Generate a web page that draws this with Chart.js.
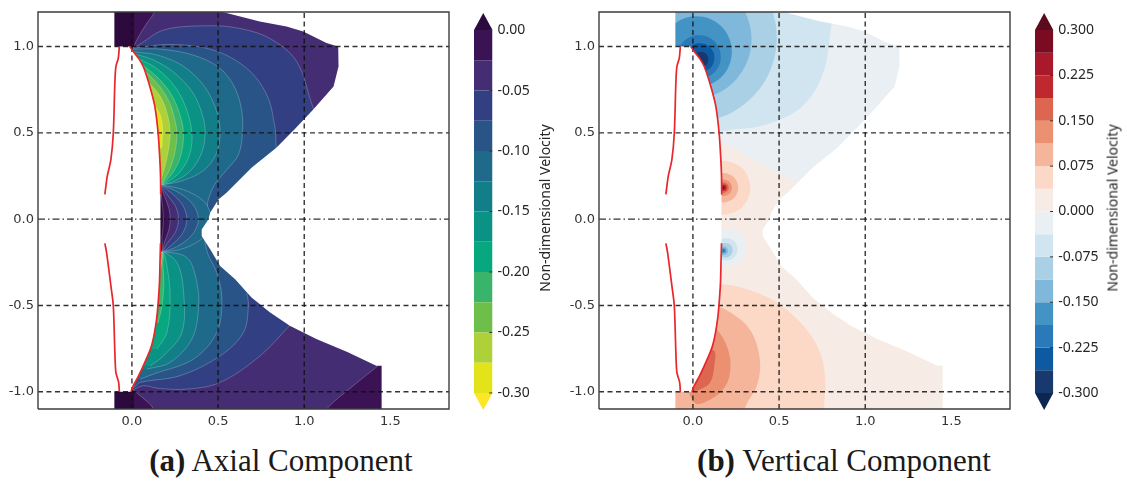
<!DOCTYPE html>
<html>
<head>
<meta charset="utf-8">
<title>Axial and vertical velocity components</title>
<script src="https://cdn.jsdelivr.net/npm/chart.js@4.4.1/dist/chart.umd.min.js"></script>
<style>
  html, body { margin: 0; padding: 0; background: #fff; }
  body { position: relative; width: 1127px; height: 482px; overflow: hidden; }
  canvas { position: absolute; top: 0; }
  .cbar-title { position: absolute; transform: translate(-50%, -50%) rotate(-90deg); white-space: nowrap;
    font: 14px "Noto Sans"; color: #262626; }
  .caption { position: absolute; top: 445px; transform: translateX(-50%); white-space: nowrap;
    font: 31px "Liberation Serif"; line-height: 31px; color: #1a1a1a; }
</style>
</head>
<body>
<canvas id="axial" width="460" height="440" style="left:0"></canvas>
<canvas id="axialBar" width="64" height="440" style="left:474px"></canvas>
<div class="cbar-title" style="left:543.5px; top:208px">Non-dimensional Velocity</div>
<canvas id="vertical" width="460" height="440" style="left:561px"></canvas>
<canvas id="verticalBar" width="92" height="440" style="left:1035px"></canvas>
<div class="cbar-title" style="left:1111.5px; top:208px">Non-dimensional Velocity</div>
<div class="caption" style="left:281px"><b>(a)</b> Axial Component</div>
<div class="caption" style="left:844px"><b>(b)</b> Vertical Component</div>

<script>
// axes, same for both panels
const xRange = [-0.545, 1.84];
const yRange = [-1.1, 1.2];
const xTicks = [0, 0.5, 1, 1.5];
const yTicks = [-1, -0.5, 0, 0.5, 1];
const dashX = [0, 0.5, 1];
const dashY = [-1, -0.5, 0.5, 1];
const dashDotY = [0];

// body outline (red)
const bodyRightTop = [[-0.012,1.0],[0.008,0.971],[0.04,0.93],[0.066,0.884],[0.104,0.769],[0.133,0.653],[0.152,0.499],[0.162,0.345],[0.166,0.25],[0.167,0.143]];
const bodyRightBot = [[0.166,-0.14],[0.163,-0.25],[0.159,-0.387],[0.143,-0.58],[0.114,-0.734],[0.066,-0.85],[0.035,-0.915],[0.008,-0.965],[-0.006,-1.0]];
const bodyLeftTop = [[-0.073,1.0],[-0.079,0.933],[-0.093,0.884],[-0.099,0.788],[-0.108,0.499],[-0.122,0.345],[-0.143,0.249],[-0.157,0.143]];
const bodyLeftBot = [[-0.157,-0.14],[-0.147,-0.194],[-0.122,-0.387],[-0.108,-0.503],[-0.099,-0.772],[-0.093,-0.888],[-0.077,-0.946],[-0.073,-1.0]];

// where there is no solution (white)
const leftMask = [[-0.7,1.3],[-0.102,1.3],[-0.102,1.0],[-0.012,1.0],[0.008,0.971],[0.04,0.93],[0.066,0.884],[0.104,0.769],[0.133,0.653],[0.152,0.499],[0.162,0.345],[0.166,0.25],[0.167,0.14],[0.166,-0.14],[0.163,-0.25],[0.159,-0.387],[0.143,-0.58],[0.114,-0.734],[0.066,-0.85],[0.035,-0.915],[0.008,-0.965],[-0.006,-1.0],[-0.102,-1.0],[-0.102,-1.3],[-0.7,-1.3]];
const rightMask = [[0.52,1.3],[0.526,1.2],[0.742,1.145],[0.897,1.116],[0.994,1.087],[1.129,1.02],[1.197,1.0],[1.199,0.884],[1.17,0.769],[1.051,0.634],[0.944,0.52],[0.838,0.413],[0.694,0.297],[0.549,0.153],[0.502,0.114],[0.454,0.037],[0.444,0.0],[0.405,-0.06],[0.405,-0.098],[0.425,-0.13],[0.454,-0.175],[0.512,-0.272],[0.599,-0.349],[0.694,-0.454],[0.8,-0.54],[0.916,-0.618],[1.07,-0.695],[1.25,-0.77],[1.418,-0.85],[1.449,-0.85],[1.449,-1.3],[2.0,-1.3],[2.0,1.3]];
const fullRect = [[-0.7,-1.3],[2.0,-1.3],[2.0,1.3],[-0.7,1.3]];

// colour levels
const axialLevels = [0, -0.025, -0.05, -0.075, -0.1, -0.125, -0.15, -0.175, -0.2, -0.225, -0.25, -0.275, -0.3];
const axialTicks = [0, -0.05, -0.1, -0.15, -0.2, -0.25, -0.3];
const axialColors = ['#2c0a3e','#3b1253','#442d73','#333f83','#295488','#1f698a','#127e87','#0a9284','#07a77f','#3ab46b','#6dbf4a','#aed13a','#e3e31a','#fde725'];
const vertLevels = [-0.3, -0.2625, -0.225, -0.1875, -0.15, -0.1125, -0.075, -0.0375, 0, 0.0375, 0.075, 0.1125, 0.15, 0.1875, 0.225, 0.2625, 0.3];
const vertTicks = [0.3, 0.225, 0.15, 0.075, 0, -0.075, -0.15, -0.225, -0.3];
const vertColors = ['#0b2650','#17396d','#0d5aa3','#2a79b8','#4394c5','#7fb8da','#a9d0e5','#d1e5f0','#e9eff2','#f6ebe5','#fcd9c6','#f5b59a','#eb9070','#dc6650','#c0282f','#a8192b','#7a0b21','#5c0a1d'];

// axial component: contour bands (upper half)
const axA = [[0.005,0.99],[0.04,1.06],[0.09,1.14],[0.13,1.2],[0.14,1.3],[-0.05,1.3],[-0.05,0.99]];
const axOverTop = [[-0.102,1.0],[0.013,1.0],[0.013,1.3],[-0.102,1.3]];
const axB = [[0.0,0.99],[0.038,1.008],[0.183,1.095],[0.415,1.12],[0.609,1.108],[0.802,1.046],[0.957,0.912],[1.053,0.642],[1.2,0.3],[0.5,0.02],[0.17,0.02],[-0.05,0.2],[-0.05,0.99]];
const axC = [[0.006,0.99],[0.222,1.012],[0.473,0.979],[0.667,0.873],[0.783,0.719],[0.831,0.526],[0.84,0.4],[0.9,0.2],[0.5,0.02],[0.17,0.02],[-0.05,0.2],[-0.05,0.99]];
const axD = [[0.006,0.985],[0.164,0.985],[0.357,0.95],[0.512,0.873],[0.599,0.757],[0.638,0.623],[0.641,0.497],[0.618,0.372],[0.551,0.286],[0.48,0.2],[0.44,0.1],[0.43,0.02],[0.17,0.02],[-0.05,0.2],[-0.05,0.985]];
const axE = [[0.012,0.97],[0.15,0.95],[0.3,0.885],[0.42,0.77],[0.49,0.63],[0.512,0.5],[0.49,0.38],[0.42,0.285],[0.3,0.225],[0.164,0.199],[-0.05,0.199],[-0.05,0.97]];
const axF = [[0.025,0.955],[0.13,0.92],[0.25,0.845],[0.355,0.73],[0.41,0.6],[0.425,0.5],[0.405,0.385],[0.34,0.28],[0.25,0.222],[0.164,0.199],[-0.05,0.199],[-0.05,0.955]];
const axG = [[0.04,0.93],[0.14,0.875],[0.24,0.78],[0.31,0.655],[0.348,0.5],[0.335,0.375],[0.28,0.275],[0.21,0.218],[0.164,0.199],[-0.05,0.199],[-0.05,0.93]];
const axH = [[0.06,0.895],[0.15,0.82],[0.23,0.72],[0.28,0.6],[0.299,0.5],[0.287,0.38],[0.245,0.28],[0.195,0.22],[0.164,0.199],[-0.05,0.199],[-0.05,0.895]];
const axI = [[0.08,0.855],[0.16,0.77],[0.22,0.67],[0.25,0.57],[0.261,0.5],[0.25,0.39],[0.22,0.29],[0.185,0.225],[0.164,0.199],[-0.05,0.199],[-0.05,0.855]];
const axJ = [[0.1,0.79],[0.165,0.71],[0.205,0.61],[0.222,0.5],[0.212,0.4],[0.19,0.3],[0.172,0.235],[0.164,0.199],[-0.05,0.199],[-0.05,0.79]];
const axK = [[0.13,0.665],[0.165,0.6],[0.178,0.53],[0.176,0.46],[0.165,0.41],[-0.05,0.41],[-0.05,0.665]];
// lower half
const axL1 = [[0.0,-0.984],[0.048,-1.023],[0.125,-1.1],[0.13,-1.2],[-0.05,-1.2],[-0.05,-0.984]];
const axOverBot = [[-0.102,-1.0],[0.013,-1.0],[0.013,-1.3],[-0.102,-1.3]];
const axL2 = [[1.08,-1.2],[1.13,-1.1],[1.285,-0.965],[1.44,-0.84],[1.6,-0.7],[1.6,-1.2]];
const axL3 = [[0.917,-0.615],[0.744,-0.792],[0.512,-0.946],[0.319,-0.985],[0.15,-0.98],[0.067,-0.965],[0.0,-0.99],[-0.05,-0.99],[-0.05,-0.2],[0.17,-0.02],[0.5,-0.02],[1.2,-0.4]];
const axL4 = [[0.667,-0.426],[0.676,-0.503],[0.647,-0.657],[0.512,-0.792],[0.28,-0.907],[0.048,-0.946],[0.01,-0.975],[-0.05,-0.975],[-0.05,-0.2],[0.17,-0.02],[0.5,-0.02],[0.8,-0.3]];
const axL5 = [[0.048,-0.927],[0.125,-0.898],[0.357,-0.811],[0.492,-0.657],[0.522,-0.464],[0.492,-0.31],[0.44,-0.2],[0.42,-0.1],[0.42,-0.02],[0.17,-0.02],[-0.05,-0.2],[-0.05,-0.927]];
const axL6 = [[0.087,-0.869],[0.222,-0.83],[0.348,-0.695],[0.386,-0.522],[0.377,-0.368],[0.319,-0.223],[0.17,-0.19],[-0.05,-0.19],[-0.05,-0.869]];
const axL7 = [[0.106,-0.85],[0.184,-0.792],[0.29,-0.657],[0.3,-0.425],[0.261,-0.252],[0.17,-0.19],[-0.05,-0.19],[-0.05,-0.85]];
const axL8 = [[0.145,-0.753],[0.203,-0.657],[0.222,-0.464],[0.203,-0.272],[0.17,-0.19],[-0.05,-0.19],[-0.05,-0.753]];
const axL9 = [[0.152,-0.6],[0.175,-0.5],[0.185,-0.38],[0.18,-0.27],[0.17,-0.19],[-0.05,-0.19],[-0.05,-0.6]];
const axL10 = [[0.162,-0.3],[0.172,-0.25],[0.17,-0.19],[-0.05,-0.19],[-0.05,-0.3]];
// between the two tips
const gap5 = [[0.164,0.199],[0.3,0.17],[0.42,0.1],[0.46,0.0],[0.42,-0.1],[0.3,-0.17],[0.17,-0.19],[0.1,-0.19],[0.1,0.199]];
const gap4 = [[0.164,0.199],[0.26,0.16],[0.35,0.09],[0.386,0.0],[0.35,-0.09],[0.26,-0.16],[0.17,-0.19],[0.1,-0.19],[0.1,0.199]];
const gap3 = [[0.164,0.199],[0.23,0.15],[0.295,0.08],[0.319,0.0],[0.295,-0.08],[0.23,-0.15],[0.17,-0.19],[0.1,-0.19],[0.1,0.199]];
const gap2 = [[0.164,0.199],[0.205,0.14],[0.255,0.07],[0.27,0.0],[0.255,-0.07],[0.205,-0.14],[0.17,-0.19],[0.1,-0.19],[0.1,0.199]];
const gap1 = [[0.164,0.199],[0.19,0.13],[0.215,0.06],[0.222,0.0],[0.215,-0.06],[0.19,-0.13],[0.17,-0.19],[0.1,-0.19],[0.1,0.199]];
const gap0 = [[0.164,0.199],[0.175,0.1],[0.183,0.0],[0.175,-0.1],[0.17,-0.19],[0.1,-0.19],[0.1,0.199]];

// vertical component: contour bands
const vtPink = [[-0.2,0.44],[0.158,0.44],[0.25,0.405],[0.313,0.364],[0.4,0.315],[0.487,0.268],[0.64,0.2],[0.9,0.1],[2.0,0.1],[2.0,-1.3],[-0.2,-1.3]];
const vtB7 = [[-0.2,0.509],[0.149,0.509],[0.25,0.52],[0.39,0.538],[0.583,0.615],[0.699,0.73],[0.767,0.884],[0.796,1.077],[0.8,1.3],[-0.2,1.3]];
const vtB6 = [[-0.17,0.59],[0.126,0.58],[0.344,0.706],[0.47,0.924],[0.47,1.176],[0.344,1.394],[-0.2,1.4]];
const vtB5 = [[-0.12,0.72],[0.116,0.72],[0.26,0.821],[0.335,0.981],[0.32,1.156],[0.22,1.3],[-0.3,1.3]];
const vtB4 = [[-0.016,0.767],[0.123,0.792],[0.207,0.883],[0.223,1.006],[0.166,1.116],[0.056,1.173],[-0.067,1.157],[-0.158,1.073],[-0.185,0.952],[-0.138,0.838],[-0.016,0.767]];
const vtB3 = [[0.013,0.815],[0.108,0.836],[0.158,0.907],[0.15,0.994],[0.089,1.055],[0.002,1.063],[-0.069,1.013],[-0.092,0.929],[-0.055,0.85],[0.013,0.815]];
const vtB2 = [[0.025,0.851],[0.089,0.865],[0.122,0.913],[0.117,0.971],[0.069,1.015],[0.004,1.012],[-0.04,0.964],[-0.038,0.899],[0.01,0.855],[0.025,0.851]];
const vtB1 = [[0.045,0.88],[0.077,0.893],[0.09,0.925],[0.077,0.957],[0.045,0.97],[0.013,0.957],[0.0,0.925],[0.013,0.893],[0.045,0.88]];
const vtR10 = [[0.023,0.182],[0.068,0.072],[0.178,0.027],[0.288,0.072],[0.333,0.182],[0.288,0.292],[0.178,0.337],[0.068,0.292],[0.023,0.182]];
const vtR11 = [[0.093,0.182],[0.118,0.122],[0.178,0.097],[0.238,0.122],[0.263,0.182],[0.238,0.242],[0.178,0.267],[0.118,0.242],[0.093,0.182]];
const vtR12 = [[0.13,0.182],[0.144,0.148],[0.178,0.134],[0.212,0.148],[0.226,0.182],[0.212,0.216],[0.178,0.23],[0.144,0.216],[0.13,0.182]];
const vtR13 = [[0.148,0.182],[0.157,0.161],[0.178,0.152],[0.199,0.161],[0.208,0.182],[0.199,0.203],[0.178,0.212],[0.157,0.203],[0.148,0.182]];
const vtS8 = [[0.09,-0.165],[0.122,-0.243],[0.2,-0.275],[0.278,-0.243],[0.31,-0.165],[0.278,-0.087],[0.2,-0.055],[0.122,-0.087],[0.09,-0.165]];
const vtS7 = [[0.13,-0.175],[0.149,-0.221],[0.195,-0.24],[0.241,-0.221],[0.26,-0.175],[0.241,-0.129],[0.195,-0.11],[0.149,-0.129],[0.13,-0.175]];
const vtS6 = [[0.146,-0.18],[0.158,-0.21],[0.188,-0.222],[0.218,-0.21],[0.23,-0.18],[0.218,-0.15],[0.188,-0.138],[0.158,-0.15],[0.146,-0.18]];
const vtL10 = [[-0.2,-0.377],[0.158,-0.377],[0.313,-0.406],[0.487,-0.483],[0.641,-0.618],[0.738,-0.772],[0.767,-0.927],[0.761,-1.096],[0.76,-1.3],[-0.2,-1.3]];
const vtL11 = [[-0.2,-0.5],[0.12,-0.5],[0.274,-0.58],[0.351,-0.676],[0.39,-0.83],[0.371,-0.965],[0.303,-1.096],[0.29,-1.3],[-0.2,-1.3]];
const vtL12 = [[-0.02,-0.62],[0.11,-0.62],[0.178,-0.695],[0.216,-0.811],[0.207,-0.927],[0.158,-1.004],[0.08,-1.055],[0.02,-1.07],[-0.02,-1.02]];
const vtL13 = [[-0.02,-0.76],[0.12,-0.76],[0.124,-0.849],[0.1,-0.946],[0.042,-0.985],[0.0,-0.995],[-0.02,-0.99]];
const spotTop = [0.178, 0.182];
const spotBot = [0.178, -0.183];

// paint order, back to front: [points, colour index, contour line drawn]
const axialRegions = [
  [fullRect, 2, false], [axA, 1, true], [axOverTop, 0, false], [axB, 3, true], [axC, 4, true], [axD, 5, true],
  [axE, 6, true], [axF, 7, true], [axG, 8, true], [axH, 9, true], [axI, 10, true], [axJ, 11, true], [axK, 12, true],
  [axL1, 1, true], [axOverBot, 0, false], [axL2, 1, true], [axL3, 3, true], [axL4, 4, true], [axL5, 5, true],
  [axL6, 6, true], [axL7, 7, true], [axL8, 8, true], [axL9, 9, true], [axL10, 10, true],
  [gap5, 5, true], [gap4, 4, true], [gap3, 3, true], [gap2, 2, true], [gap1, 1, true], [gap0, 0, true]
];
const vertRegions = [
  [fullRect, 8], [vtPink, 9], [vtB7, 7], [vtB6, 6], [vtB5, 5], [vtB4, 4], [vtB3, 3], [vtB2, 2], [vtB1, 1],
  [vtR10, 10], [vtR11, 11], [vtR12, 12], [vtR13, 13], [vtS8, 8], [vtS7, 7], [vtS6, 6],
  [vtL10, 10], [vtL11, 11], [vtL12, 12], [vtL13, 13]
];
// tiny rings at the tips: [centre, colour index, radius px]
const vertDots = [[spotTop, 14, 3.1], [spotTop, 15, 1.9], [spotTop, 16, 1], [spotBot, 5, 4.3], [spotBot, 4, 2.4], [spotBot, 3, 1.2]];

const toXY = pts => pts.map(p => ({x: p[0], y: p[1]}));
const fmt = (v, d) => (Math.abs(v) < 1e-9 ? 0 : v).toFixed(d);

function region(pts, color, tension, lined) {
  return {
    data: toXY(pts), fill: 'shape', backgroundColor: color,
    borderColor: lined ? 'rgba(255,255,255,0.32)' : 'rgba(0,0,0,0)', borderWidth: lined ? 0.7 : 0,
    pointRadius: 0, tension: tension
  };
}
function stroke(pts, color, width, dash, tension) {
  return {
    data: toXY(pts), fill: false, borderColor: color, borderWidth: width,
    borderDash: dash || [], pointRadius: 0, tension: tension || 0
  };
}

// masks, body outline, dashed guides and frame go on top of the field
function overlays() {
  const ds = [];
  ds.push(region(leftMask, '#ffffff', 0, false));
  ds.push(region(rightMask, '#ffffff', 0, false));
  const dashCol = 'rgba(15,15,15,0.85)';
  dashX.forEach(v => ds.push(stroke([[v, yRange[0]], [v, yRange[1]]], dashCol, 1.4, [5, 3.5])));
  dashY.forEach(v => ds.push(stroke([[xRange[0], v], [xRange[1], v]], dashCol, 1.4, [5, 3.5])));
  dashDotY.forEach(v => ds.push(stroke([[xRange[0], v], [xRange[1], v]], dashCol, 1.4, [7, 3, 1.5, 3])));
  [bodyRightTop, bodyRightBot, bodyLeftTop, bodyLeftBot].forEach(b => ds.push(stroke(b, '#e8262b', 1.7, null, 0.3)));
  const frame = stroke([[xRange[0], yRange[0]], [xRange[0], yRange[1]], [xRange[1], yRange[1]], [xRange[1], yRange[0]], [xRange[0], yRange[0]]], '#3d3d3d', 1.4);
  frame.clip = false;
  ds.push(frame);
  return ds;
}

const tickFont = {family: 'DejaVu Sans', size: 13};

function fieldChart(id, datasets) {
  datasets.forEach((d, i) => { d.order = -i; });
  return new Chart(document.getElementById(id), {
    type: 'line',
    data: {datasets},
    options: {
      responsive: false, animation: false, events: [], indexAxis: 'y',
      layout: {padding: {left: 0, top: 12, right: 11, bottom: 0}},
      plugins: {legend: {display: false}, tooltip: {enabled: false}},
      scales: {
        x: {
          type: 'linear', min: xRange[0], max: xRange[1],
          grid: {display: false, drawTicks: false}, border: {display: false},
          afterBuildTicks: s => { s.ticks = xTicks.map(v => ({value: v})); },
          afterFit: s => { s.height = 31; s.paddingLeft = 0; s.paddingRight = 0; },
          ticks: {color: '#333', font: tickFont, padding: 5, maxRotation: 0, autoSkip: false, callback: v => fmt(v, 1)}
        },
        y: {
          type: 'linear', min: yRange[0], max: yRange[1],
          grid: {display: false, drawTicks: false}, border: {display: false},
          afterBuildTicks: s => { s.ticks = yTicks.map(v => ({value: v})); },
          afterFit: s => { s.width = 38; s.paddingTop = 0; s.paddingBottom = 0; },
          ticks: {color: '#333', font: tickFont, padding: 4, autoSkip: false, callback: v => fmt(v, 1)}
        }
      }
    }
  });
}

function colorBar(id, levels, colors, ticks, range, digits, axisWidth) {
  const ds = [];
  const n = levels.length - 1;
  for (let k = 1; k <= n; k++) {
    const a = levels[k - 1], b = levels[k];
    ds.push(region([[0, a], [1, a], [1, b], [0, b]], colors[k], 0, false));
  }
  const apex0 = levels[0] > levels[1] ? range[1] : range[0];
  const apexN = levels[0] > levels[1] ? range[0] : range[1];
  ds.push(region([[0, levels[0]], [0.5, apex0], [1, levels[0]]], colors[0], 0, false));
  ds.push(region([[0, levels[n]], [0.5, apexN], [1, levels[n]]], colors[n + 1], 0, false));
  ticks.forEach(v => ds.push(stroke([[0.82, v], [1, v]], '#333', 1)));
  ds.forEach((d, i) => { d.order = -i; });
  return new Chart(document.getElementById(id), {
    type: 'line',
    data: {datasets: ds},
    options: {
      responsive: false, animation: false, events: [], indexAxis: 'y',
      layout: {padding: {left: 0, top: 13, right: 0, bottom: 30}},
      plugins: {legend: {display: false}, tooltip: {enabled: false}},
      scales: {
        x: {type: 'linear', min: 0, max: 1, display: false},
        y: {
          type: 'linear', position: 'right', min: range[0], max: range[1],
          grid: {display: false, drawTicks: false}, border: {display: false},
          afterBuildTicks: s => { s.ticks = ticks.map(v => ({value: v})); },
          afterFit: s => { s.width = axisWidth; s.paddingTop = 0; s.paddingBottom = 0; },
          ticks: {color: '#262626', font: {family: 'Noto Sans', size: 14}, padding: 5, autoSkip: false, callback: v => fmt(v, digits)}
        }
      }
    }
  });
}

// panel (a)
const axialSets = axialRegions.map(r => region(r[0], axialColors[r[1]], r[1] === 0 && !r[2] || r[0] === fullRect ? 0 : 0.35, r[2]));
fieldChart('axial', axialSets.concat(overlays()));
colorBar('axialBar', axialLevels, axialColors, axialTicks, [-0.3141, 0.0141], 2, 45.5);

// panel (b)
const vertSets = vertRegions.map(r => region(r[0], vertColors[r[1]], r[0] === fullRect ? 0 : 0.35, false));
vertDots.forEach(d => vertSets.push({
  data: toXY([d[0]]), showLine: false, pointRadius: d[2], pointBackgroundColor: vertColors[d[1]],
  pointBorderWidth: 0, pointBorderColor: 'rgba(0,0,0,0)'
}));
fieldChart('vertical', vertSets.concat(overlays()));
colorBar('verticalBar', vertLevels, vertColors, vertTicks, [-0.3281, 0.3281], 3, 73.7);
</script>
</body>
</html>
